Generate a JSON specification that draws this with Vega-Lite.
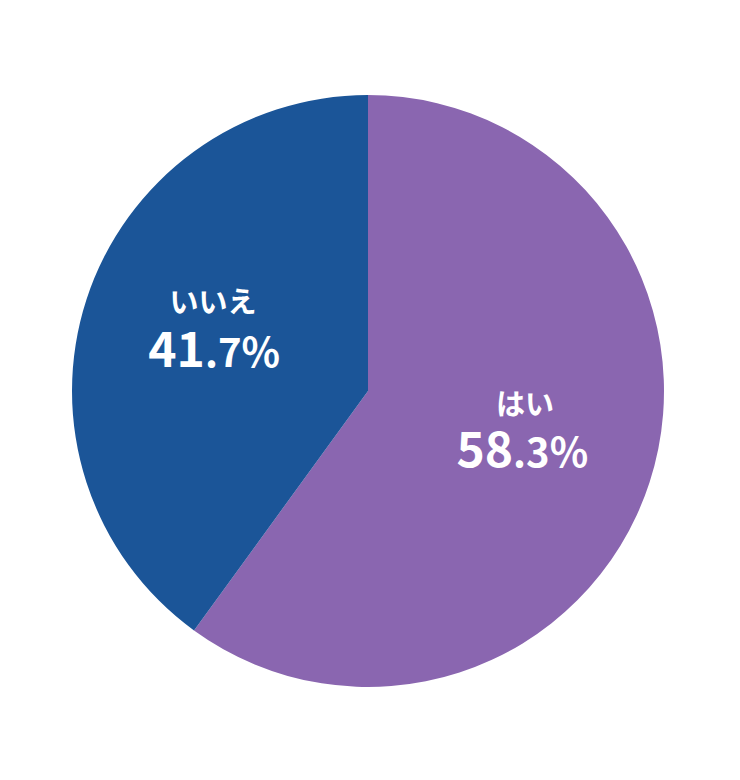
{
  "$schema": "https://vega.github.io/schema/vega-lite/v6.json",
  "width": 740,
  "height": 780,
  "autosize": {"type": "fit", "contains": "padding"},
  "padding": {"left": 0, "right": 4, "top": 2, "bottom": 0},
  "background": "white",
  "view": {"stroke": null},
  "data": {
    "values": [
      {"answer": "はい", "share": 60, "whole": "58", "frac": ".3%", "ord": 1},
      {"answer": "いいえ", "share": 40, "whole": "41", "frac": ".7%", "ord": 2}
    ]
  },
  "encoding": {
    "theta": {"field": "share", "type": "quantitative", "stack": true},
    "order": {"field": "ord", "type": "quantitative"}
  },
  "layer": [
    {
      "mark": {"type": "arc", "outerRadius": 296},
      "encoding": {
        "color": {
          "field": "answer",
          "type": "nominal",
          "scale": {"domain": ["はい", "いいえ"], "range": ["#8a66b0", "#1b5598"]},
          "legend": null
        }
      }
    },
    {
      "mark": {"type": "text", "radius": 164, "dx": 1, "dy": -36, "align": "center", "baseline": "middle",
        "font": "Noto Sans CJK JP", "fontWeight": "bold", "fontSize": 29, "color": "white"},
      "encoding": {"text": {"field": "answer"}}
    },
    {
      "mark": {"type": "text", "radius": 162, "dx": -9, "dy": 26, "align": "right", "baseline": "alphabetic",
        "font": "Noto Sans CJK JP", "fontWeight": "bold", "fontSize": 48, "color": "white"},
      "encoding": {"text": {"field": "whole"}}
    },
    {
      "mark": {"type": "text", "radius": 162, "dx": -9, "dy": 26, "align": "left", "baseline": "alphabetic",
        "font": "Noto Sans CJK JP", "fontWeight": "bold", "fontSize": 40, "color": "white"},
      "encoding": {"text": {"field": "frac"}}
    }
  ]
}
